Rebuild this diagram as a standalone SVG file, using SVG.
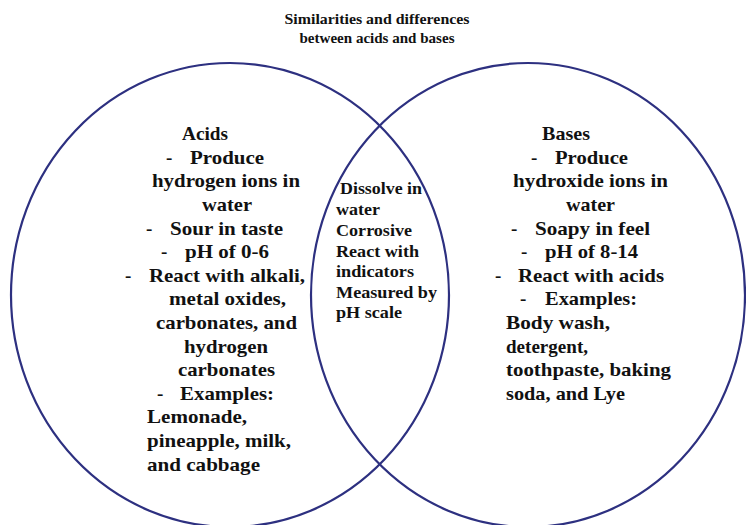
<svg xmlns="http://www.w3.org/2000/svg" width="746" height="525" viewBox="0 0 746 525">
<style>
.c{fill:none;stroke:#2d3080;stroke-width:2.2}
.t{font-family:'Liberation Serif','Times New Roman',serif;font-weight:bold;fill:#111}
.m{font-size:19px}
.s{font-size:17.5px}
.h{font-size:14px}
.mid{text-anchor:middle}
</style>
<rect width="746" height="525" fill="#fff"/>
<g id="title" class="t h mid">
<text x="377" y="24" textLength="185" lengthAdjust="spacingAndGlyphs">Similarities and differences</text>
<text x="377" y="43" textLength="155" lengthAdjust="spacingAndGlyphs">between acids and bases</text>
</g>
<g id="connectors"></g>
<g id="acids">
<ellipse class="c" cx="230" cy="295" rx="219" ry="232"/>
<g class="t m">
<text x="182" y="140" textLength="46" lengthAdjust="spacingAndGlyphs">Acids</text>
<text x="166" y="164">-</text><text x="190" y="164" textLength="74" lengthAdjust="spacingAndGlyphs">Produce</text>
<text x="152" y="187" textLength="148" lengthAdjust="spacingAndGlyphs">hydrogen ions in</text>
<text x="202" y="211" textLength="50" lengthAdjust="spacingAndGlyphs">water</text>
<text x="146" y="235">-</text><text x="170" y="235" textLength="113" lengthAdjust="spacingAndGlyphs">Sour in taste</text>
<text x="161" y="258">-</text><text x="185" y="258" textLength="84" lengthAdjust="spacingAndGlyphs">pH of 0-6</text>
<text x="125" y="282">-</text><text x="149" y="282" textLength="156" lengthAdjust="spacingAndGlyphs">React with alkali,</text>
<text x="169" y="305" textLength="117" lengthAdjust="spacingAndGlyphs">metal oxides,</text>
<text x="156" y="329" textLength="141" lengthAdjust="spacingAndGlyphs">carbonates, and</text>
<text x="184" y="353" textLength="84" lengthAdjust="spacingAndGlyphs">hydrogen</text>
<text x="178" y="376" textLength="97" lengthAdjust="spacingAndGlyphs">carbonates</text>
<text x="157" y="400">-</text><text x="180" y="400" textLength="94" lengthAdjust="spacingAndGlyphs">Examples:</text>
<text x="147" y="423" textLength="100" lengthAdjust="spacingAndGlyphs">Lemonade,</text>
<text x="147" y="447" textLength="144" lengthAdjust="spacingAndGlyphs">pineapple, milk,</text>
<text x="147" y="471" textLength="113" lengthAdjust="spacingAndGlyphs">and cabbage</text>
</g>
</g>
<g id="bases">
<ellipse class="c" cx="528" cy="295" rx="217" ry="232"/>
<g class="t m">
<text x="542" y="140" textLength="48" lengthAdjust="spacingAndGlyphs">Bases</text>
<text x="531" y="164">-</text><text x="555" y="164" textLength="73" lengthAdjust="spacingAndGlyphs">Produce</text>
<text x="513" y="187" textLength="155" lengthAdjust="spacingAndGlyphs">hydroxide ions in</text>
<text x="566" y="211" textLength="49" lengthAdjust="spacingAndGlyphs">water</text>
<text x="511" y="235">-</text><text x="535" y="235" textLength="115" lengthAdjust="spacingAndGlyphs">Soapy in feel</text>
<text x="521" y="258">-</text><text x="545" y="258" textLength="93" lengthAdjust="spacingAndGlyphs">pH of 8-14</text>
<text x="495" y="282">-</text><text x="518" y="282" textLength="146" lengthAdjust="spacingAndGlyphs">React with acids</text>
<text x="520" y="305">-</text><text x="545" y="305" textLength="92" lengthAdjust="spacingAndGlyphs">Examples:</text>
<text x="506" y="329" textLength="104" lengthAdjust="spacingAndGlyphs">Body wash,</text>
<text x="506" y="353" textLength="82" lengthAdjust="spacingAndGlyphs">detergent,</text>
<text x="506" y="376" textLength="165" lengthAdjust="spacingAndGlyphs">toothpaste, baking</text>
<text x="506" y="400" textLength="119" lengthAdjust="spacingAndGlyphs">soda, and Lye</text>
</g>
</g>
<g id="both" class="t s">
<text x="340" y="194" textLength="82" lengthAdjust="spacingAndGlyphs">Dissolve in</text>
<text x="336" y="215" textLength="44" lengthAdjust="spacingAndGlyphs">water</text>
<text x="336" y="236" textLength="76" lengthAdjust="spacingAndGlyphs">Corrosive</text>
<text x="336" y="257" textLength="83" lengthAdjust="spacingAndGlyphs">React with</text>
<text x="336" y="277" textLength="78" lengthAdjust="spacingAndGlyphs">indicators</text>
<text x="336" y="298" textLength="101" lengthAdjust="spacingAndGlyphs">Measured by</text>
<text x="336" y="318" textLength="66" lengthAdjust="spacingAndGlyphs">pH scale</text>
</g>
</svg>
